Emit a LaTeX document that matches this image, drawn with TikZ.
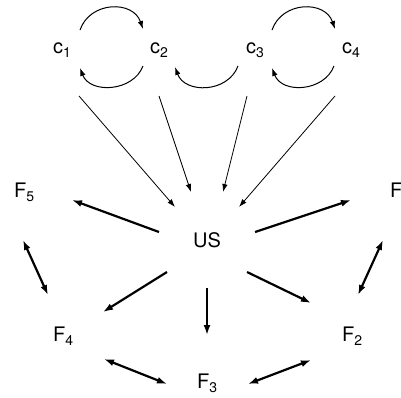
\documentclass[tikz,border=0pt]{standalone}
\usepackage{fontspec}
\setmainfont{TeX Gyre Heros}
\usetikzlibrary{arrows.meta,calc}
\newcommand\sbs[1]{\raisebox{-4.5pt}{\fontsize{14}{14}\selectfont #1}}
\tikzset{
  lbl/.style={anchor=base west,inner sep=0pt,font=\fontsize{20}{24}\selectfont},
  thinarr/.style={line width=0.8pt,-{Latex[length=8pt,width=5.5pt]}},
  arcarr/.style={line width=1pt,-{Latex[length=8pt,width=5.5pt]}},
  thickarr/.style={line width=2.2pt,-{Latex[length=10pt,width=7pt]}},
  dblarr/.style={line width=2.2pt,{Latex[length=10pt,width=7pt]}-{Latex[length=10pt,width=7pt]}}
}
\begin{document}
\begin{tikzpicture}[x=1pt,y=-1pt]
\useasboundingbox (0,0) rectangle (401,397);
\node[lbl] (c1) at (53,53) {c\sbs{1}};
\node[lbl] (c2) at (150,53) {c\sbs{2}};
\node[lbl] (c3) at (246,53) {c\sbs{3}};
\node[lbl] (c4) at (342,53) {c\sbs{4}};
\node[lbl] (US) at (193,247) {US};
\node[lbl] (F5) at (14,197) {F\sbs{5}};
\node[lbl] (F1) at (390,197) {F};
\node[lbl] (F4) at (53,341) {F\sbs{4}};
\node[lbl] (F2) at (342,341) {F\sbs{2}};
\node[lbl] (F3) at (197,388) {F\sbs{3}};
% arcs
\draw[arcarr] ($(c1.base west)+(27,-23)$) .. controls +(10,-29) and +(-10,-29) .. ($(c2.base west)+(-7,-24)$);
\draw[arcarr] ($(c2.base west)+(-7,13)$) .. controls +(-10,26) and +(10,26) .. ($(c1.base west)+(27,15)$);
\draw[arcarr] ($(c3.base west)+(-8,13)$) .. controls +(-10,27) and +(10,27) .. ($(c2.base west)+(25,14)$);
\draw[arcarr] ($(c3.base west)+(26,-23)$) .. controls +(10,-29) and +(-10,-29) .. ($(c4.base west)+(-7,-24)$);
\draw[arcarr] ($(c4.base west)+(-8,13)$) .. controls +(-10,26) and +(10,26) .. ($(c3.base west)+(26,15)$);
% c -> US
\draw[thinarr] ($(c1.base west)+(26,43)$) -- ($(US.base west)+(-18,-40)$);
\draw[thinarr] ($(c2.base west)+(9,43)$) -- ($(US.base west)+(-2,-55)$);
\draw[thinarr] ($(c3.base west)+(1,43)$) -- ($(US.base west)+(30,-55)$);
\draw[thinarr] ($(c4.base west)+(-7,43)$) -- ($(US.base west)+(46,-40)$);
% US -> F
\draw[thickarr] ($(US.base west)+(-34,-15)$) -- ($(F5.base west)+(58,3)$);
\draw[thickarr] ($(US.base west)+(62,-15)$) -- ($(F1.base west)+(-39,3)$);
\draw[thickarr] ($(US.base west)+(-26,25)$) -- ($(F4.base west)+(50,-29)$);
\draw[thickarr] ($(US.base west)+(14,41)$) -- ($(F3.base west)+(10,-53)$);
\draw[thickarr] ($(US.base west)+(54,25)$) -- ($(F2.base west)+(-31,-38)$);
% F <-> F
\draw[dblarr] ($(F5.base west)+(9,43)$) -- ($(F4.base west)+(-5,-46)$);
\draw[dblarr] ($(F1.base west)+(-7,43)$) -- ($(F2.base west)+(16,-46)$);
\draw[dblarr] ($(F4.base west)+(51,18)$) -- ($(F3.base west)+(-30,-4)$);
\draw[dblarr] ($(F3.base west)+(51,-4)$) -- ($(F2.base west)+(-31,19)$);
\end{tikzpicture}
\end{document}
